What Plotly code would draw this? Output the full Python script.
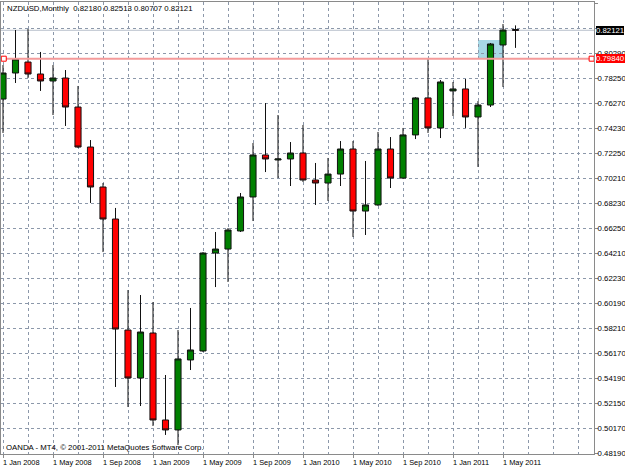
import plotly.graph_objects as go
import pandas as pd

# ---------------- data ----------------
months = [p.strftime("%b %Y") for p in pd.period_range("2008-01", "2011-06", freq="M")]

opens = [0.7660, 0.7869, 0.7957, 0.7861, 0.7805, 0.7829, 0.7596, 0.7275, 0.6954, 0.6697,
         0.5806, 0.5421, 0.5782, 0.5084, 0.5004, 0.5566, 0.5638, 0.6424, 0.6456, 0.6601,
         0.6874, 0.7211, 0.7171, 0.7179, 0.7227, 0.7010, 0.6986, 0.7058, 0.7259, 0.6761,
         0.6810, 0.7259, 0.7026, 0.7372, 0.7669, 0.7428, 0.7725, 0.7741, 0.7516, 0.7612,
         0.8094, 0.82180]
highs = [0.7933, 0.8214, 0.8222, 0.8038, 0.7933, 0.7893, 0.7765, 0.7331, 0.6986, 0.6786,
         0.6127, 0.6087, 0.6031, 0.5445, 0.5806, 0.5983, 0.6432, 0.6593, 0.6625, 0.6906,
         0.7307, 0.7628, 0.7532, 0.7315, 0.7452, 0.7147, 0.7187, 0.7323, 0.7323, 0.7163,
         0.7396, 0.7355, 0.7428, 0.7675, 0.7990, 0.7813, 0.7797, 0.7821, 0.7644, 0.8110,
         0.8262, 0.82513]
lows = [0.7388, 0.7789, 0.7829, 0.7725, 0.7532, 0.7444, 0.7267, 0.6826, 0.6432, 0.5349,
        0.5188, 0.5196, 0.5036, 0.4964, 0.4883, 0.5485, 0.5630, 0.6151, 0.6192, 0.6593,
        0.6681, 0.7074, 0.7026, 0.6962, 0.6994, 0.6810, 0.6842, 0.6962, 0.6553, 0.6569,
        0.6802, 0.6946, 0.7018, 0.7339, 0.7388, 0.7347, 0.7524, 0.7428, 0.7115, 0.7596,
        0.7757, 0.80707]
closes = [0.7869, 0.7982, 0.7861, 0.7805, 0.7829, 0.7596, 0.7275, 0.6954, 0.6697, 0.5814,
          0.5421, 0.5790, 0.5084, 0.5004, 0.5574, 0.5646, 0.6424, 0.6456, 0.6609, 0.6874,
          0.7211, 0.7179, 0.7179, 0.7227, 0.7010, 0.6986, 0.7058, 0.7259, 0.6761, 0.6810,
          0.7259, 0.7026, 0.7372, 0.7669, 0.7428, 0.7797, 0.7741, 0.7516, 0.7612, 0.8102,
          0.8214, 0.82121]

# price-scale grid levels and their labels ("" = level hidden behind the bid label)
y_tick_values = [0.48190, 0.50170, 0.52150, 0.54190, 0.56170, 0.58210, 0.60190, 0.62230,
                 0.64210, 0.66250, 0.68230, 0.70210, 0.72250, 0.74230, 0.76270, 0.78250,
                 0.80290, 0.82290, 0.84310]
y_tick_labels = ["0.48190", "0.50170", "0.52150", "0.54190", "0.56170", "0.58210",
                 "0.60190", "0.62230", "0.64210", "0.66250", "0.68230", "0.70210",
                 "0.72250", "0.74230", "0.76270", "0.78250", "0.80290", "", "0.84310"]
x_tick_labels = ["1 Jan 2008", "1 May 2008", "1 Sep 2008", "1 Jan 2009", "1 May 2009",
                 "1 Sep 2009", "1 Jan 2010", "1 May 2010", "1 Sep 2010", "1 Jan 2011",
                 "1 May 2011"]

hline_level = 0.79840            # red horizontal line object
rect_months = ["Mar 2011", "May 2011"]  # light-blue rectangle object
rect_prices = [0.79840, 0.81340]

symbol = "NZDUSD"
period = "Monthly"
copyright_text = "OANDA - MT4, \u00a9 2001-2011 MetaQuotes Software Corp."

# ---------------- layout constants ----------------
W, H = 625, 469
ML, MR, MT, MB = 1, 31, 2, 15
x_range = [-0.16, 47.28]
y_range = [0.48110, 0.84390]
FONT = "Liberation Sans, Arial, sans-serif"
FS = 7.8
GRID = "#8c98aa"
AXIS = "#8a8a8a"

x = list(range(len(months)))
tick_idx = [months.index(lbl.split(" ", 1)[1]) for lbl in x_tick_labels]

fig = go.Figure()

fig.add_trace(go.Candlestick(
    x=x, open=opens, high=highs, low=lows, close=closes,
    increasing=dict(line=dict(color="#111111", width=1), fillcolor="#008000"),
    decreasing=dict(line=dict(color="#111111", width=1), fillcolor="#ff0000"),
    whiskerwidth=0, showlegend=False, hoverinfo="skip",
))

# red horizontal line with its end squares
hx = [x_range[0] + 0.22, x_range[1] - 0.19]
fig.add_trace(go.Scatter(
    x=hx, y=[hline_level, hline_level], mode="lines+markers",
    line=dict(color="#f49a9a", width=2),
    marker=dict(symbol="square", size=5, color="#ffffff",
                line=dict(color="#ff0000", width=1)),
    showlegend=False, hoverinfo="skip", cliponaxis=False,
))

shapes = [
    # light-blue rectangle
    dict(type="rect", xref="x", yref="y", layer="below",
         x0=months.index(rect_months[0]), x1=months.index(rect_months[1]),
         y0=rect_prices[0], y1=rect_prices[1],
         fillcolor="#a8d8e6", line=dict(width=0)),
    # bid line
    dict(type="line", xref="paper", yref="y", layer="below",
         x0=0, x1=1, y0=closes[-1], y1=closes[-1],
         line=dict(color="#b8c0cc", width=1)),
]

annotations = []
# x date labels, left-aligned at their tick
for lbl, xi in zip(x_tick_labels, tick_idx):
    annotations.append(dict(
        x=xi, xref="x", y=0, yref="paper", text=lbl, showarrow=False,
        xanchor="left", yanchor="top", xshift=-2, yshift=-2,
        font=dict(family=FONT, size=7.4, color="#000000")))

# price labels on axis
for val, bg in [(closes[-1], "#000000"), (hline_level, "#ff0000")]:
    annotations.append(dict(
        x=1, xref="paper", y=val, yref="y", text=f"{val:.5f}",
        showarrow=False, xanchor="left", yanchor="middle", xshift=2,
        bgcolor=bg, borderpad=0, borderwidth=0,
        font=dict(family=FONT, size=FS, color="#ffffff")))

# title
annotations.append(dict(
    x=0, xref="paper", y=1, yref="paper",
    text=f"{symbol},{period}\u00a0 {opens[-1]:.5f} {highs[-1]:.5f} {lows[-1]:.5f} {closes[-1]:.5f}",
    showarrow=False, xanchor="left", yanchor="top", xshift=4, yshift=0,
    font=dict(family=FONT, size=FS, color="#000000")))

# copyright
annotations.append(dict(
    x=0, xref="paper", y=0, yref="paper", text=copyright_text,
    showarrow=False, xanchor="left", yanchor="bottom", xshift=3, yshift=0,
    font=dict(family=FONT, size=FS, color="#000000")))

fig.update_layout(
    width=W, height=H,
    margin=dict(l=ML, r=MR, t=MT, b=MB, pad=0),
    paper_bgcolor="#ffffff", plot_bgcolor="#ffffff",
    showlegend=False,
    shapes=shapes, annotations=annotations,
    xaxis=dict(
        range=x_range, rangeslider=dict(visible=False), automargin=False,
        tickmode="array", tickvals=tick_idx, ticktext=[""] * len(tick_idx),
        ticks="outside", ticklen=3, tickcolor=AXIS, showticklabels=False,
        showgrid=True, gridcolor=GRID, griddash="3px,3px", gridwidth=1,
        minor=dict(tickmode="linear", tick0=0, dtick=2, showgrid=True,
                   gridcolor=GRID, griddash="3px,3px", gridwidth=1, ticks=""),
        showline=True, linecolor=AXIS, linewidth=1, mirror=True,
        zeroline=False, fixedrange=True,
    ),
    yaxis=dict(
        range=y_range, side="right", automargin=False,
        tickmode="array", tickvals=y_tick_values, ticktext=y_tick_labels,
        ticks="outside", ticklen=3, tickcolor=AXIS, ticklabelstandoff=-2,
        tickfont=dict(family=FONT, size=FS, color="#000000"),
        showgrid=True, gridcolor=GRID, griddash="3px,3px", gridwidth=1,
        showline=True, linecolor=AXIS, linewidth=1, mirror=True,
        zeroline=False, fixedrange=True,
    ),
)

fig.write_html("out.html")
